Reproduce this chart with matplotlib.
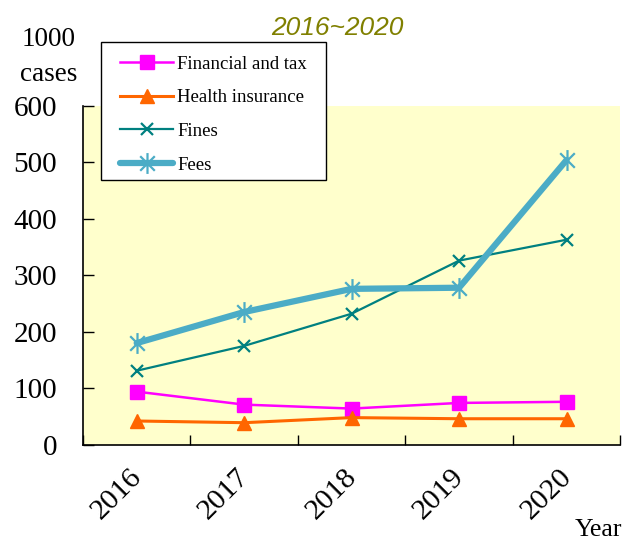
#! /usr/bin/env python3

import numpy as np
import matplotlib
matplotlib.use("Agg")
import matplotlib.pyplot as plt
from matplotlib.path import Path
from matplotlib.patches import Rectangle
from matplotlib.transforms import ScaledTranslation

years = ["2016", "2017", "2018", "2019", "2020"]
financial_and_tax = [94, 71, 64, 74, 76]
health_insurance = [42, 39, 48, 46, 46]
fines = [131, 175, 232, 326, 363]
fees = [180, 235, 276, 278, 504]

# asterisk: vertical stroke plus an x
ASTERISK = Path(
    [(0, -1), (0, 1), (-0.7, -0.7), (0.7, 0.7), (-0.7, 0.7), (0.7, -0.7)],
    [Path.MOVETO, Path.LINETO, Path.MOVETO, Path.LINETO, Path.MOVETO, Path.LINETO],
)

def main():

    plt.rcParams["font.family"] = ["Liberation Serif", "DejaVu Serif"]

    fig = plt.figure(figsize=(6.24, 5.43), dpi=100)
    ax = fig.add_axes([0.133, 0.181, 0.861, 0.624])
    ax.set_facecolor("#FFFFCC")

    x = np.arange(len(years))

    ax.plot(x, financial_and_tax, color="#FF00FF", lw=1.8, marker="s", ms=10, mec="#FF00FF", label="Financial and tax")
    ax.plot(x, health_insurance, color="#FF6600", lw=2.2, marker="^", ms=10, mec="#FF6600", label="Health insurance")
    ax.plot(x, fines, color="#008080", lw=1.6, marker="x", ms=9, mew=1.6, label="Fines")
    ax.plot(x, fees, color="#4BACC6", lw=4.5, marker=ASTERISK, ms=15, mew=1.6, mec="#4BACC6", label="Fees",
            solid_capstyle="round")

    ax.set_xlim(-0.5, 4.5)
    ax.set_ylim(0, 600)
    ax.set_yticks(range(0, 601, 100))
    ax.set_xticks(x)
    ax.set_xticklabels(years, rotation=45, ha="right", rotation_mode="anchor")
    ax.set_xticks(np.arange(-0.5, 4.6, 1), minor=True)

    ax.tick_params(axis="x", which="major", length=0, labelsize=21.5, pad=14)
    ax.tick_params(axis="x", which="minor", direction="in", length=7, width=1)
    ax.tick_params(axis="y", direction="in", length=8, width=1, labelsize=21, pad=18.5)

    # nudge the rotated year labels a bit to the left
    shift = ScaledTranslation(-6 / 72, 0, fig.dpi_scale_trans)
    for lab in ax.get_xticklabels():
        lab.set_transform(lab.get_transform() + shift)

    for side in ("top", "right"):
        ax.spines[side].set_visible(False)
    ax.spines["left"].set_linewidth(1.2)
    ax.spines["bottom"].set_linewidth(1.2)

    # legend box drawn by hand, entries placed inside it
    W, H = 624, 543
    ax.add_patch(Rectangle((101 / W, 1 - 180 / H), 225 / W, 138 / H, transform=fig.transFigure,
                           facecolor="white", edgecolor="black", lw=1.0, zorder=5, clip_on=False))
    leg = ax.legend(loc="upper left", bbox_to_anchor=(120 / W, 1 - 55.5 / H), bbox_transform=fig.transFigure,
                    fontsize=13.5, frameon=False, handlelength=2.85, handletextpad=0.2,
                    labelspacing=0.88, borderpad=0, borderaxespad=0)
    leg.set_zorder(6)

    fig.text(337 / W, 1 - 28 / H, "2016~2020", family="Liberation Sans", style="italic",
             color="#808000", fontsize=19, ha="center", va="center")
    fig.text(49 / W, 1 - 57 / H, "1000\ncases", fontsize=19.5, ha="center", va="center", linespacing=1.5)
    fig.text(598 / W, 1 - 530 / H, "Year", fontsize=18.5, ha="center", va="center")

    fig.savefig("out.png", dpi=100)
    plt.close(fig)

if __name__ == "__main__":
    main()
